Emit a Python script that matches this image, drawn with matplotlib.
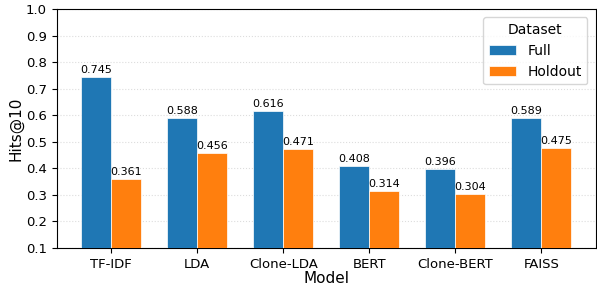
import numpy as np
import matplotlib
matplotlib.use("Agg")
import matplotlib.pyplot as plt

models = ["TF-IDF", "LDA", "Clone-LDA", "BERT", "Clone-BERT", "FAISS"]
full = [0.745, 0.588, 0.616, 0.408, 0.396, 0.589]
holdout = [0.361, 0.456, 0.471, 0.314, 0.304, 0.475]

fig, ax = plt.subplots(figsize=(5.97, 2.85), dpi=100)

x = np.arange(len(models))
w = 0.35

b1 = ax.bar(x - w / 2, full, w, label="Full", color="#1f77b4",
            edgecolor="white", linewidth=0.5, zorder=3)
b2 = ax.bar(x + w / 2, holdout, w, label="Holdout", color="#ff7f0e",
            edgecolor="white", linewidth=0.5, zorder=3)

for bars in (b1, b2):
    for r in bars:
        ax.text(r.get_x() + r.get_width() / 2, r.get_height() + 0.008,
                f"{r.get_height():.3f}", ha="center", va="bottom", fontsize=8)

ax.set_ylim(0.1, 1.0)
ax.set_yticks(np.arange(0.1, 1.01, 0.1))
ax.set_xticks(x)
ax.set_xticklabels(models)
ax.tick_params(labelsize=9.5)
ax.set_xlabel("Model", fontsize=11, labelpad=0)
ax.set_ylabel("Hits@10", fontsize=11, labelpad=2)
ax.yaxis.grid(True, linestyle=":", color="#dddddd", linewidth=0.8, zorder=0)
ax.set_axisbelow(True)

ax.legend(title="Dataset", fontsize=10, title_fontsize=10, loc="upper right",
          borderaxespad=0.6)

plt.subplots_adjust(left=0.095, right=0.998, top=0.968, bottom=0.13)
plt.savefig("out.png", dpi=100)
